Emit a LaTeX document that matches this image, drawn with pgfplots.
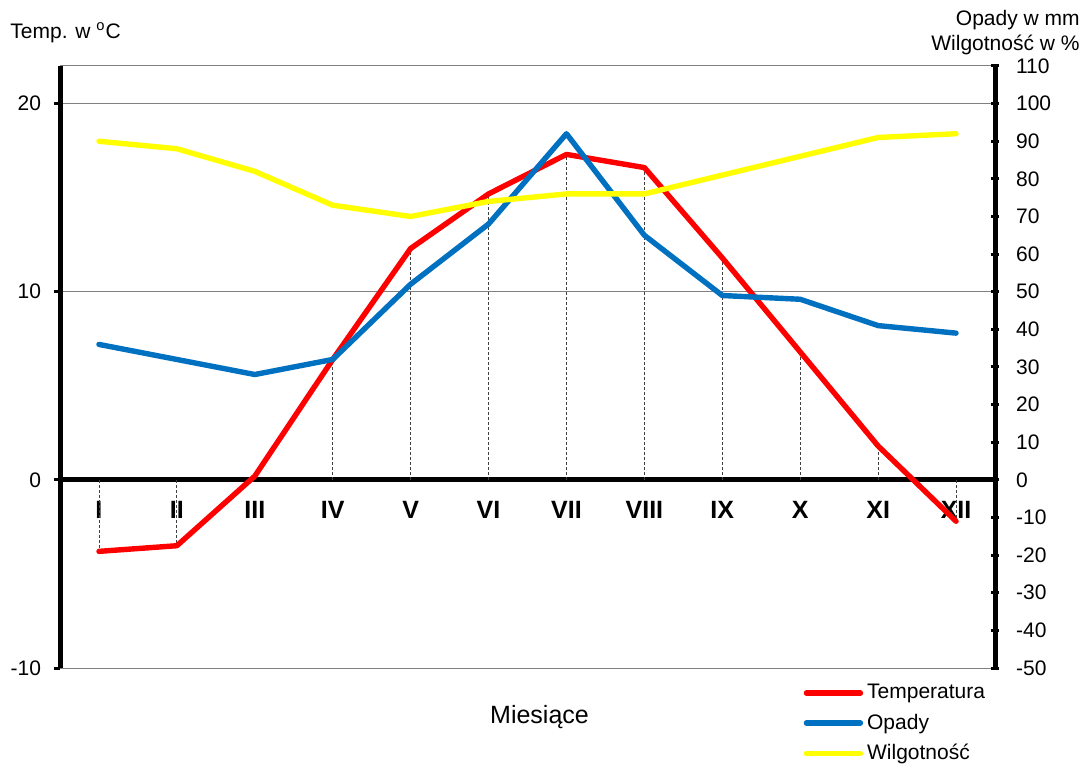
\documentclass[border=0pt]{standalone}
\usepackage{pgfplots}
\pgfplotsset{compat=1.18}
\usepackage{fontspec}
\setmainfont{Liberation Sans}
\definecolor{tempred}{RGB}{255,0,0}
\definecolor{opblue}{RGB}{0,112,192}
\definecolor{wilgyel}{RGB}{255,255,0}
\newcommand{\lbl}{\fontsize{10.5}{12.6}\selectfont}

\begin{document}
\begin{tikzpicture}
\pgfplotsset{
  common/.style={
    scale only axis, width=467.5pt, height=301pt,
    xmin=0.5, xmax=12.5,
    tick label style={font=\lbl},
    /pgf/number format/assume math mode=true,
  },
  serie/.style={line width=2.7pt, line join=round, line cap=round},
}
% lewa os: temperatura
\begin{axis}[common,
  ymin=-10, ymax=22,
  axis x line*=middle, axis y line*=left,
  x axis line style={-, line width=2.6pt},
  y axis line style={-, line width=2.5pt},
  xtick={1,...,12},
  xticklabels={I,II,III,IV,V,VI,VII,VIII,IX,X,XI,XII},
  xticklabel style={font=\fontsize{12.5}{14}\selectfont\bfseries, yshift=-4pt},
  x tick style={draw=none},
  ytick={-10,0,10,20},
  ymajorgrids, grid style={gray, line width=0.5pt},
  y tick style={black, line width=1.5pt},
  major tick length=3pt, tick align=outside,
  yticklabel style={xshift=-3pt},
]
\addplot[ycomb, black!75, line width=0.4pt, dash pattern=on 1.5pt off 1pt, forget plot]
  coordinates {(1,-3.8) (2,-3.5) (3,0.2) (4,6.4) (5,12.3) (6,15.2) (7,17.3) (8,16.6) (9,11.8) (10,6.8) (11,1.8) (12,-2.2)};
\addplot[serie, tempred]
  coordinates {(1,-3.8) (2,-3.5) (3,0.2) (4,6.4) (5,12.3) (6,15.2) (7,17.3) (8,16.6) (9,11.8) (10,6.8) (11,1.8) (12,-2.2)};
\draw[gray, line width=0.5pt] (rel axis cs:0,1) -- (rel axis cs:1,1);
\coordinate (sw) at (rel axis cs:0,0);
\coordinate (ne) at (rel axis cs:1,1);
\coordinate (nw) at (rel axis cs:0,1);
\coordinate (s) at (rel axis cs:0.5,0);
\end{axis}
% prawa os: opady i wilgotnosc
\begin{axis}[common,
  ymin=-50, ymax=110,
  axis x line=none, axis y line*=right,
  y axis line style={-, line width=2.5pt},
  ytick={-50,-40,...,110},
  y tick style={black, line width=1.5pt},
  major tick length=4pt, tick align=center,
  yticklabel style={xshift=5pt},
  legend style={at={(0.795,-0.02)}, anchor=north west, draw=none, fill=none,
    font=\lbl, inner sep=0pt, row sep=2pt},
  legend cell align=left,
  legend image code/.code={\draw[#1] (0pt,0pt) -- (27pt,0pt);},
]
\addlegendimage{serie, tempred}
\addlegendentry{Temperatura}
\addplot[serie, opblue]
  coordinates {(1,36) (2,32) (3,28) (4,32) (5,52) (6,68) (7,92) (8,65) (9,49) (10,48) (11,41) (12,39)};
\addlegendentry{Opady}
\addplot[serie, wilgyel]
  coordinates {(1,90) (2,88) (3,82) (4,73) (5,70) (6,74) (7,76) (8,76) (9,81) (10,86) (11,91) (12,92)};
\addlegendentry{Wilgotność}
\end{axis}
\node[anchor=west, font=\lbl, inner sep=0pt] at ([xshift=-25pt, yshift=16.5pt]nw) {Temp. w \textsuperscript{o}C};
\node[anchor=north east, align=right, font=\lbl, inner sep=0pt] at ([xshift=42.5pt, yshift=28pt]ne) {Opady w mm\\Wilgotność w \%};
\node[font=\fontsize{12.5}{15}\selectfont] at ([xshift=6pt, yshift=-24.5pt]s) {Miesiące};
\pgfresetboundingbox
\path[use as bounding box] ([xshift=-30pt, yshift=-48pt]sw) rectangle ([xshift=44.5pt, yshift=33pt]ne);
\end{tikzpicture}
\end{document}
